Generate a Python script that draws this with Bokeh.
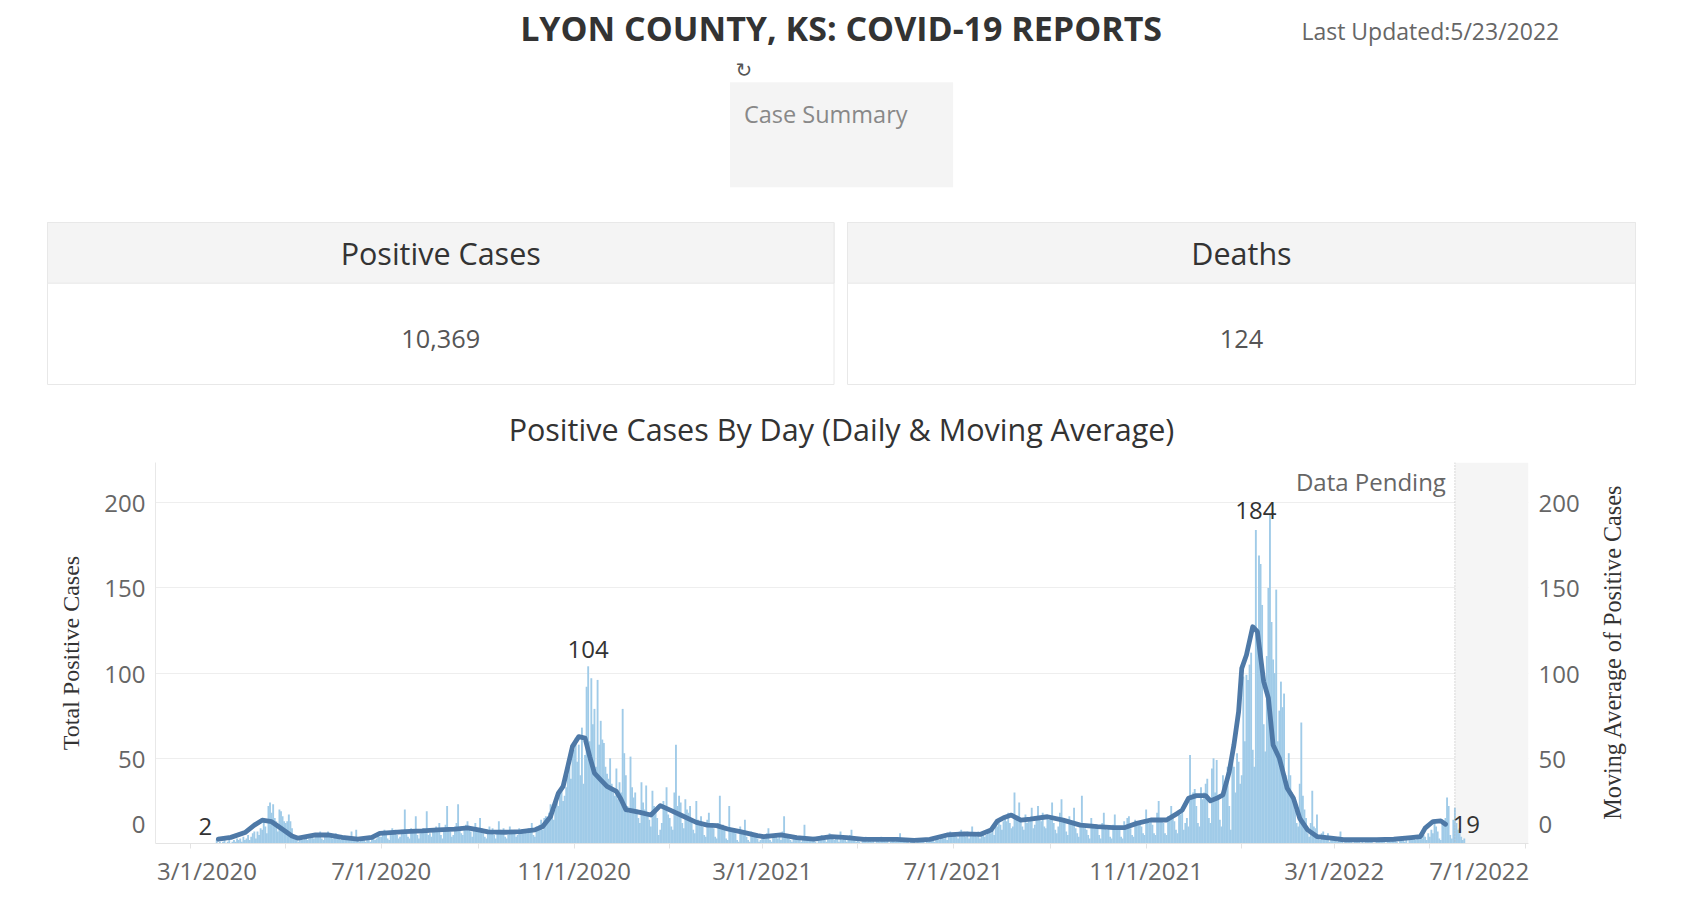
import math
import pandas as pd
from bokeh.plotting import figure
from bokeh.layouts import row
from bokeh.models import (Range1d, LinearAxis, FixedTicker, CustomJSTickFormatter,
                          BoxAnnotation, Span, ColumnDataSource)
from bokeh.core.properties import value
from bokeh.embed import file_html
from bokeh.resources import INLINE

# ---------------- data ----------------
title_text = "LYON COUNTY, KS: COVID-19 REPORTS"
updated_text = "Last Updated:5/23/2022"
kpi_names = ["Positive Cases", "Deaths"]
kpi_values = ["10,369", "124"]
chart_title = "Positive Cases By Day (Daily & Moving Average)"
left_axis_title = "Total Positive Cases"
right_axis_title = "Moving Average of Positive Cases"

# daily positive cases, month by month (first value = first date given)
cases_2020_03 = [2, 0, 1, 0, 1, 2, 0, 1, 3, 0, 1, 2, 1, 3]
cases_2020_04 = [2, 3, 1, 4, 2, 3, 5, 2, 4, 6, 7, 3, 7, 5, 9, 8, 13, 10, 6, 22, 24, 18, 23, 15, 13, 7, 20, 19, 16, 13]
cases_2020_05 = [12, 13, 17, 13, 9, 5, 3, 2, 1, 2, 3, 2, 4, 3, 2, 3, 4, 5, 3, 6, 4, 5, 7, 3, 2, 6, 5, 7, 6, 4, 3]
cases_2020_06 = [5, 6, 4, 3, 2, 5, 3, 4, 2, 3, 4, 7, 2, 3, 8, 2, 1, 3, 2, 4, 1, 2, 3, 1, 4, 5, 2, 3, 6, 4]
cases_2020_07 = [4, 6, 8, 5, 3, 2, 7, 9, 6, 8, 5, 3, 4, 8, 7, 20, 6, 4, 3, 9, 8, 7, 16, 5, 3, 6, 8, 9, 7, 19, 5]
cases_2020_08 = [6, 4, 9, 8, 10, 7, 12, 5, 3, 8, 11, 22, 9, 7, 4, 5, 10, 12, 23, 8, 6, 5, 9, 11, 13, 10, 7, 4, 8, 12, 9]
cases_2020_09 = [7, 15, 9, 6, 4, 3, 8, 10, 7, 9, 5, 3, 6, 13, 8, 7, 9, 4, 3, 5, 10, 8, 7, 6, 4, 5, 9, 8, 7, 6]
cases_2020_10 = [8, 6, 9, 7, 12, 5, 4, 10, 9, 11, 14, 8, 15, 16, 12, 18, 23, 17, 14, 20, 26, 22, 30, 34, 25, 28, 33, 40, 45, 38, 52]
cases_2020_11 = [55, 62, 48, 58, 40, 68, 35, 52, 92, 104, 60, 97, 70, 79, 45, 96, 58, 72, 61, 59, 45, 41, 38, 50, 35, 30, 28, 44, 26, 36]
cases_2020_12 = [30, 79, 53, 40, 22, 18, 51, 33, 27, 30, 20, 15, 12, 36, 24, 20, 34, 18, 14, 10, 31, 22, 20, 15, 5, 8, 12, 25, 21, 33, 17]
cases_2021_01 = [15, 10, 8, 30, 58, 22, 28, 24, 12, 9, 26, 20, 18, 22, 15, 8, 6, 25, 14, 12, 16, 10, 5, 4, 14, 18, 10, 12, 9, 4, 3]
cases_2021_02 = [12, 28, 9, 11, 8, 3, 2, 22, 8, 7, 9, 6, 2, 1, 10, 6, 5, 14, 4, 2, 1, 7, 5, 4, 6, 3, 1, 2]
cases_2021_03 = [5, 4, 3, 6, 9, 2, 1, 5, 4, 6, 3, 4, 2, 7, 16, 5, 4, 3, 2, 1, 4, 5, 3, 2, 4, 1, 2, 11, 3, 4, 2]
cases_2021_04 = [3, 2, 4, 1, 0, 3, 2, 5, 3, 2, 1, 4, 6, 3, 5, 2, 4, 3, 1, 7, 2, 3, 4, 1, 2, 5, 8, 3, 2, 1]
cases_2021_05 = [2, 1, 0, 3, 2, 4, 1, 2, 3, 1, 2, 0, 3, 2, 1, 4, 2, 3, 1, 2, 0, 1, 3, 2, 1, 2, 3, 6, 1, 2, 1]
cases_2021_06 = [1, 2, 0, 1, 3, 1, 0, 2, 1, 3, 2, 1, 0, 2, 1, 3, 2, 4, 1, 2, 3, 2, 5, 4, 3, 6, 2, 5, 7, 4]
cases_2021_07 = [5, 6, 4, 3, 7, 8, 5, 6, 4, 7, 3, 5, 10, 6, 5, 4, 7, 3, 5, 6, 4, 5, 7, 8, 6, 9, 5, 12, 10, 14, 11]
cases_2021_08 = [8, 13, 16, 13, 18, 12, 9, 10, 30, 14, 16, 24, 15, 10, 8, 17, 12, 14, 15, 21, 9, 11, 16, 22, 15, 13, 18, 10, 9, 16, 14]
cases_2021_09 = [15, 24, 12, 8, 6, 10, 18, 26, 14, 12, 7, 5, 16, 13, 11, 21, 9, 6, 4, 12, 28, 10, 9, 8, 5, 3, 15, 11, 9, 10]
cases_2021_10 = [9, 5, 3, 12, 18, 9, 8, 10, 4, 3, 11, 17, 10, 9, 8, 4, 3, 13, 10, 15, 16, 9, 5, 4, 14, 12, 11, 13, 10, 6, 5]
cases_2021_11 = [20, 14, 12, 15, 11, 6, 5, 18, 25, 14, 13, 12, 6, 5, 16, 14, 22, 15, 13, 8, 6, 19, 17, 21, 8, 12, 15, 10, 52, 28]
cases_2021_12 = [30, 32, 22, 12, 10, 33, 26, 30, 35, 38, 15, 12, 44, 50, 30, 49, 27, 14, 10, 40, 28, 35, 45, 22, 8, 53, 45, 30, 53, 48, 35]
cases_2022_01 = [40, 98, 60, 99, 96, 105, 112, 55, 45, 184, 120, 169, 164, 140, 70, 54, 110, 150, 193, 130, 108, 100, 149, 60, 78, 95, 80, 88, 40, 35, 53]
cases_2022_02 = [40, 30, 25, 20, 12, 10, 35, 71, 28, 20, 15, 6, 4, 12, 31, 10, 9, 17, 3, 2, 6, 7, 5, 4, 6, 1, 2, 3]
cases_2022_03 = [3, 2, 1, 4, 7, 1, 0, 2, 3, 1, 2, 1, 0, 3, 2, 1, 2, 0, 1, 0, 3, 2, 1, 2, 1, 0, 0, 2, 1, 3, 2]
cases_2022_04 = [2, 1, 0, 3, 2, 1, 2, 3, 2, 1, 0, 3, 4, 2, 1, 3, 0, 2, 4, 3, 5, 2, 3, 4, 6, 3, 5, 4, 2, 6]
cases_2022_05 = [4, 8, 6, 12, 10, 7, 3, 2, 13, 11, 15, 27, 22, 5, 3, 14, 21, 12, 8, 9, 4, 2, 3]

month_starts = [
    ("2020-03-18", cases_2020_03), ("2020-04-01", cases_2020_04), ("2020-05-01", cases_2020_05),
    ("2020-06-01", cases_2020_06), ("2020-07-01", cases_2020_07), ("2020-08-01", cases_2020_08),
    ("2020-09-01", cases_2020_09), ("2020-10-01", cases_2020_10), ("2020-11-01", cases_2020_11),
    ("2020-12-01", cases_2020_12), ("2021-01-01", cases_2021_01), ("2021-02-01", cases_2021_02),
    ("2021-03-01", cases_2021_03), ("2021-04-01", cases_2021_04), ("2021-05-01", cases_2021_05),
    ("2021-06-01", cases_2021_06), ("2021-07-01", cases_2021_07), ("2021-08-01", cases_2021_08),
    ("2021-09-01", cases_2021_09), ("2021-10-01", cases_2021_10), ("2021-11-01", cases_2021_11),
    ("2021-12-01", cases_2021_12), ("2022-01-01", cases_2022_01), ("2022-02-01", cases_2022_02),
    ("2022-03-01", cases_2022_03), ("2022-04-01", cases_2022_04), ("2022-05-01", cases_2022_05),
]

# moving average line
ma_dates = ["2020-03-19", "2020-03-27", "2020-04-05", "2020-04-11", "2020-04-16", "2020-04-22", "2020-04-28", "2020-05-05", "2020-05-09", "2020-05-20",
            "2020-05-28", "2020-06-06", "2020-06-16", "2020-06-25", "2020-06-30", "2020-07-16", "2020-07-27", "2020-08-06", "2020-08-17", "2020-08-25",
            "2020-09-01", "2020-09-07", "2020-09-18", "2020-09-28", "2020-10-07", "2020-10-12", "2020-10-17", "2020-10-22", "2020-10-25", "2020-10-28",
            "2020-10-31", "2020-11-04", "2020-11-08", "2020-11-11", "2020-11-14", "2020-11-18", "2020-11-22", "2020-11-28", "2020-12-01", "2020-12-04",
            "2020-12-09", "2020-12-13", "2020-12-20", "2020-12-26", "2021-01-01", "2021-01-08", "2021-01-18", "2021-01-25", "2021-01-31", "2021-02-07",
            "2021-02-15", "2021-02-26", "2021-03-02", "2021-03-13", "2021-03-23", "2021-04-03", "2021-04-14", "2021-04-24", "2021-05-05", "2021-05-26",
            "2021-06-06", "2021-06-16", "2021-06-27", "2021-07-08", "2021-07-18", "2021-07-25", "2021-07-29", "2021-08-02", "2021-08-07", "2021-08-13",
            "2021-08-19", "2021-08-30", "2021-09-09", "2021-09-20", "2021-10-01", "2021-10-11", "2021-10-18", "2021-10-26", "2021-11-04", "2021-11-14",
            "2021-11-21", "2021-11-24", "2021-11-28", "2021-12-03", "2021-12-09", "2021-12-12", "2021-12-16", "2021-12-20", "2021-12-24", "2021-12-27",
            "2021-12-30", "2022-01-01", "2022-01-04", "2022-01-08", "2022-01-11", "2022-01-15", "2022-01-18", "2022-01-21", "2022-01-25", "2022-01-30",
            "2022-02-03", "2022-02-07", "2022-02-12", "2022-02-18", "2022-02-27", "2022-03-07", "2022-03-28", "2022-04-08", "2022-04-19", "2022-04-25",
            "2022-04-28", "2022-05-03", "2022-05-08", "2022-05-11"]
ma_values = [2.5, 3.6, 6.4, 10.8, 13.7, 12.8, 8.9, 4.4, 3.1, 5.0,
             5.0, 3.6, 2.5, 3.6, 6.0, 7.0, 7.4, 8.0, 8.4, 9.2,
             8.0, 6.8, 6.6, 7.0, 8.0, 10.0, 15.8, 29.6, 33.5, 45.2,
             57.0, 62.7, 61.8, 51.0, 41.3, 37.4, 33.5, 30.6, 25.8, 19.9,
             19.0, 18.3, 16.7, 22.2, 19.7, 16.7, 12.4, 10.8, 10.5, 8.5,
             7.0, 4.6, 4.0, 5.0, 3.4, 2.6, 4.0, 3.4, 2.4, 2.4,
             1.8, 2.4, 5.0, 5.7, 5.3, 7.9, 13.2, 15.1, 16.7, 13.7,
             14.3, 15.7, 13.7, 10.8, 9.9, 9.3, 9.3, 11.8, 13.8, 13.8,
             17.7, 19.6, 26.5, 28.1, 28.1, 25.0, 26.5, 28.5, 42.1, 57.8,
             77.4, 102.8, 110.6, 127.2, 124.3, 95.0, 85.3, 57.8, 50.0, 32.4,
             26.5, 14.8, 8.0, 4.1, 3.1, 2.2, 2.2, 2.5, 3.5, 4.1,
             9.0, 12.9, 13.3, 11.3]

peak_label_dates = ["2020-11-10", "2022-01-10"]
peak_label_texts = ["104", "184"]
start_label_text = "2"
end_label_text = "19"
pending_start = "2022-05-17"

x_tick_dates = ["2020-03-01", "2020-07-01", "2020-11-01", "2021-03-01",
                "2021-07-01", "2021-11-01", "2022-03-01", "2022-07-01"]
x_minor_dates = ["2020-05-01", "2020-09-01", "2021-01-01", "2021-05-01",
                 "2021-09-01", "2022-01-01", "2022-05-01"]
y_ticks = [0, 50, 100, 150, 200]

# ---------------- build ----------------
dates, cases = [], []
for start, arr in month_starts:
    dates.extend(pd.date_range(start, periods=len(arr), freq="D"))
    cases.extend(arr)
bars = ColumnDataSource(dict(date=dates, cases=cases))
ma = ColumnDataSource(dict(date=pd.to_datetime(ma_dates), ma=ma_values))


def ms(s):
    return pd.Timestamp(s).value / 1e6


FONT = value("Open Sans")
W = 1682
HEAD_H = 448
CHART_H = 445
SIDE_W = 92
Y_MAX = 223.6

# ---- header (coordinates in page pixels from the top-left) ----
h = figure(width=W, height=HEAD_H, x_range=Range1d(0, W), y_range=Range1d(HEAD_H, 0),
           output_backend="svg", toolbar_location=None, min_border=0,
           x_axis_location=None, y_axis_location=None, outline_line_color=None)
h.grid.visible = False

h.text(x=[840.6], y=[27.5], text=[title_text], text_font=FONT, text_font_style="bold",
       text_font_size="34px", text_align="center", text_baseline="middle", text_color="#333333")
h.text(x=[1558.7], y=[30.5], text=[updated_text], text_font=FONT, text_font_size="23px",
       text_align="right", text_baseline="middle", text_color="#666666")
h.text(x=[743.4], y=[69], text=["\u21bb"], text_font=value("DejaVu Sans"), text_font_size="20px",
       text_align="center", text_baseline="middle", text_color="#555555")
h.quad(left=[729.5], right=[952.6], top=[81.7], bottom=[186.7], fill_color="#f4f4f4", line_color=None)
h.text(x=[743.4], y=[113.5], text=["Case Summary"], text_font=FONT, text_font_size="23.5px",
       text_align="left", text_baseline="middle", text_color="#888888")

panel_left = [47, 847]
panel_right = [833.5, 1635]
h.quad(left=panel_left, right=panel_right, top=[222, 222], bottom=[384, 384],
       fill_color="white", line_color="#e8e8e8", line_width=1)
h.quad(left=panel_left, right=panel_right, top=[222, 222], bottom=[282.7, 282.7],
       fill_color="#f4f4f4", line_color="#e8e8e8", line_width=1)
centers = [(l + r) / 2 for l, r in zip(panel_left, panel_right)]
h.text(x=centers, y=[252.5, 252.5], text=kpi_names, text_font=FONT, text_font_size="30.5px",
       text_align="center", text_baseline="middle", text_color="#333333")
h.text(x=centers, y=[338, 338], text=kpi_values, text_font=FONT, text_font_size="25.3px",
       text_align="center", text_baseline="middle", text_color="#555555")
h.text(x=[841], y=[428], text=[chart_title], text_font=FONT, text_font_size="30.5px",
       text_align="center", text_baseline="middle", text_color="#333333")

# ---- chart ----
x0 = pd.Timestamp("2020-03-01")
x_start = x0 - pd.Timedelta(days=22.07)
x_end = x0 + pd.Timedelta(days=853.96)
p = figure(width=W - SIDE_W, height=CHART_H, x_axis_type="datetime",
           x_range=Range1d(x_start, x_end), y_range=Range1d(0, Y_MAX),
           output_backend="svg", toolbar_location=None,
           min_border_left=155, min_border_right=62, min_border_top=14, min_border_bottom=50,
           outline_line_color=None)

p.add_layout(BoxAnnotation(left=ms(pending_start), fill_color="#f5f5f5", fill_alpha=1.0,
                           line_color=None, level="underlay"))
p.add_layout(Span(location=ms(pending_start), dimension="height", line_color="#b5b5b5",
                  line_dash="1 2", line_width=1))

p.vbar(x="date", top="cases", width=1.2 * 86400000, source=bars,
       fill_color="#a0cbe8", line_color=None)
p.line(x="date", y="ma", source=ma, line_width=4.8, line_color="#4e79a7",
       line_join="round", line_cap="round")

# labels
p.text(x=pd.to_datetime(peak_label_dates), y=[104 + 10, 184 + 11.5], text=peak_label_texts,
       text_font=FONT, text_font_size="24px", text_align="center", text_baseline="middle",
       text_color="#333333")
p.text(x=[pd.Timestamp(ma_dates[0])], y=[ma_values[0] + 7.4], text=[start_label_text],
       x_offset=-6, text_font=FONT, text_font_size="24px", text_align="right",
       text_baseline="middle", text_color="#333333")
p.text(x=[pd.Timestamp(ma_dates[-1])], y=[ma_values[-1] - 0.4], text=[end_label_text],
       x_offset=7, text_font=FONT, text_font_size="24px", text_align="left",
       text_baseline="middle", text_color="#333333")
p.text(x=[pd.Timestamp(pending_start)], y=[212.5], text=["Data Pending"], x_offset=-9,
       text_font=FONT, text_font_size="24px", text_align="right", text_baseline="middle",
       text_color="#666666")

# x axis (first / last label nudged inside the pane, as in the original)
xa = p.xaxis[0]
xa.ticker = FixedTicker(ticks=[ms(d) for d in x_tick_dates], minor_ticks=[ms(d) for d in x_minor_dates])
xa.formatter = CustomJSTickFormatter(code="""
const d = new Date(tick);
const s = (d.getUTCMonth() + 1) + "/" + d.getUTCDate() + "/" + d.getUTCFullYear();
if (index == 0) { return "\\u2007\\u2007\\u2008" + s; }
if (index == ticks.length - 1) { return s + "\\u2007\\u2007\\u2007\\u2007\\u2008"; }
return s;
""")
xa.major_label_text_font = "Open Sans"
xa.major_label_text_font_size = "24px"
xa.major_label_text_color = "#666666"
xa.axis_line_color = "#e3e3e3"
xa.major_tick_line_color = "#e3e3e3"
xa.minor_tick_line_color = "#e3e3e3"
xa.major_tick_in = 0
xa.major_tick_out = 5
xa.minor_tick_in = 0
xa.minor_tick_out = 5
xa.major_label_standoff = 5

# y axes ("0" label lifted above the baseline, as in the original)
y_fmt = CustomJSTickFormatter(code="""
return tick == 0 ? "0\\n\\u2007" : tick.toFixed(0);
""")
ya = p.yaxis[0]
ry = LinearAxis()
p.add_layout(ry, "right")
for ax in (ya, ry):
    ax.ticker = FixedTicker(ticks=y_ticks)
    ax.formatter = y_fmt
    ax.major_label_text_font = "Open Sans"
    ax.major_label_text_font_size = "24px"
    ax.major_label_text_color = "#666666"
    ax.major_tick_line_color = None
    ax.minor_tick_line_color = None
    ax.major_tick_out = 0
    ax.major_tick_in = 0
    ax.major_label_standoff = 10
ya.axis_label = left_axis_title
ya.axis_label_text_font = "Liberation Serif"
ya.axis_label_text_font_size = "24px"
ya.axis_label_text_font_style = "normal"
ya.axis_label_text_color = "#333333"
ya.axis_label_standoff = 17
ya.axis_line_color = "#e8e8e8"
ry.axis_line_color = None

p.xgrid.visible = False
p.ygrid.ticker = FixedTicker(ticks=y_ticks)
p.ygrid.grid_line_color = "#eeeeee"

# ---- right-hand axis title strip (same vertical frame as the chart) ----
s = figure(width=SIDE_W, height=CHART_H, x_range=Range1d(0, SIDE_W), y_range=Range1d(0, Y_MAX),
           output_backend="svg", toolbar_location=None,
           min_border_left=0, min_border_right=0, min_border_top=14, min_border_bottom=50,
           x_axis_location=None, y_axis_location=None, outline_line_color=None)
s.grid.visible = False
s.text(x=[22], y=[112.4], text=[right_axis_title], angle=math.pi / 2,
       text_font=value("Liberation Serif"), text_font_size="24.2px",
       text_align="center", text_baseline="middle", text_color="#333333")

open("out.html", "w").write(file_html([h, row(p, s, spacing=0)], INLINE))
